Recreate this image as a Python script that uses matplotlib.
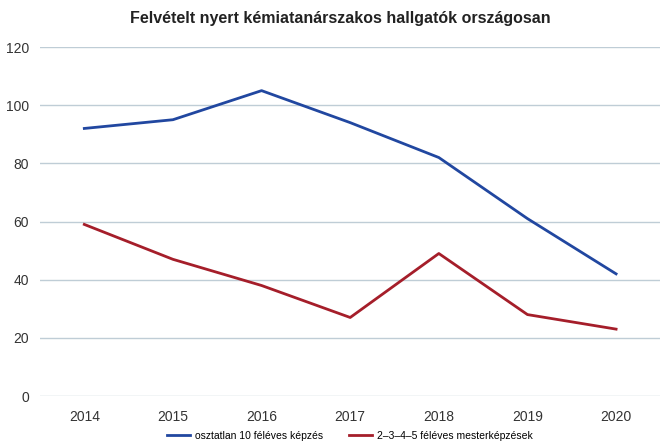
import matplotlib
matplotlib.use("Agg")
import matplotlib.pyplot as plt

years = ["2014", "2015", "2016", "2017", "2018", "2019", "2020"]
osztatlan = [92, 95, 105, 94, 82, 61, 42]
mester = [59, 47, 38, 27, 49, 28, 23]

plt.rcParams["font.family"] = ["Liberation Sans", "DejaVu Sans"]

fig = plt.figure(figsize=(6.6, 4.41), dpi=100)
ax = fig.add_axes([0.0606, 0.102, 0.94, 0.7914])

x = range(len(years))
ax.plot(x, osztatlan, color="#2147a0", lw=2, label="osztatlan 10 féléves képzés")
ax.plot(x, mester, color="#a51e2a", lw=2, label="2–3–4–5 féléves mesterképzések")

ax.set_xlim(-0.5, len(years) - 0.5)
ax.set_ylim(0, 120)
ax.set_yticks(range(0, 121, 20))
ax.set_xticks(list(x))
ax.set_xticklabels(years)
ax.grid(axis="y", color="#bfcdd6", lw=1)
ax.set_axisbelow(True)
for s in ax.spines.values():
    s.set_visible(False)
ax.tick_params(length=0, labelsize=10, colors="#333333")
ax.tick_params(axis="x", pad=10)
ax.tick_params(axis="y", pad=8)

fig.text(0.515, 0.958, "Felvételt nyert kémiatanárszakos hallgatók országosan",
         ha="center", va="center", fontsize=11.5, fontweight="bold", color="#222222")

fig.legend(loc="center", bbox_to_anchor=(0.53, 0.012), ncol=2, frameon=False,
           fontsize=7.5, handlelength=2.2, columnspacing=2.5, handletextpad=0.5)

fig.savefig("out.png", dpi=100)
